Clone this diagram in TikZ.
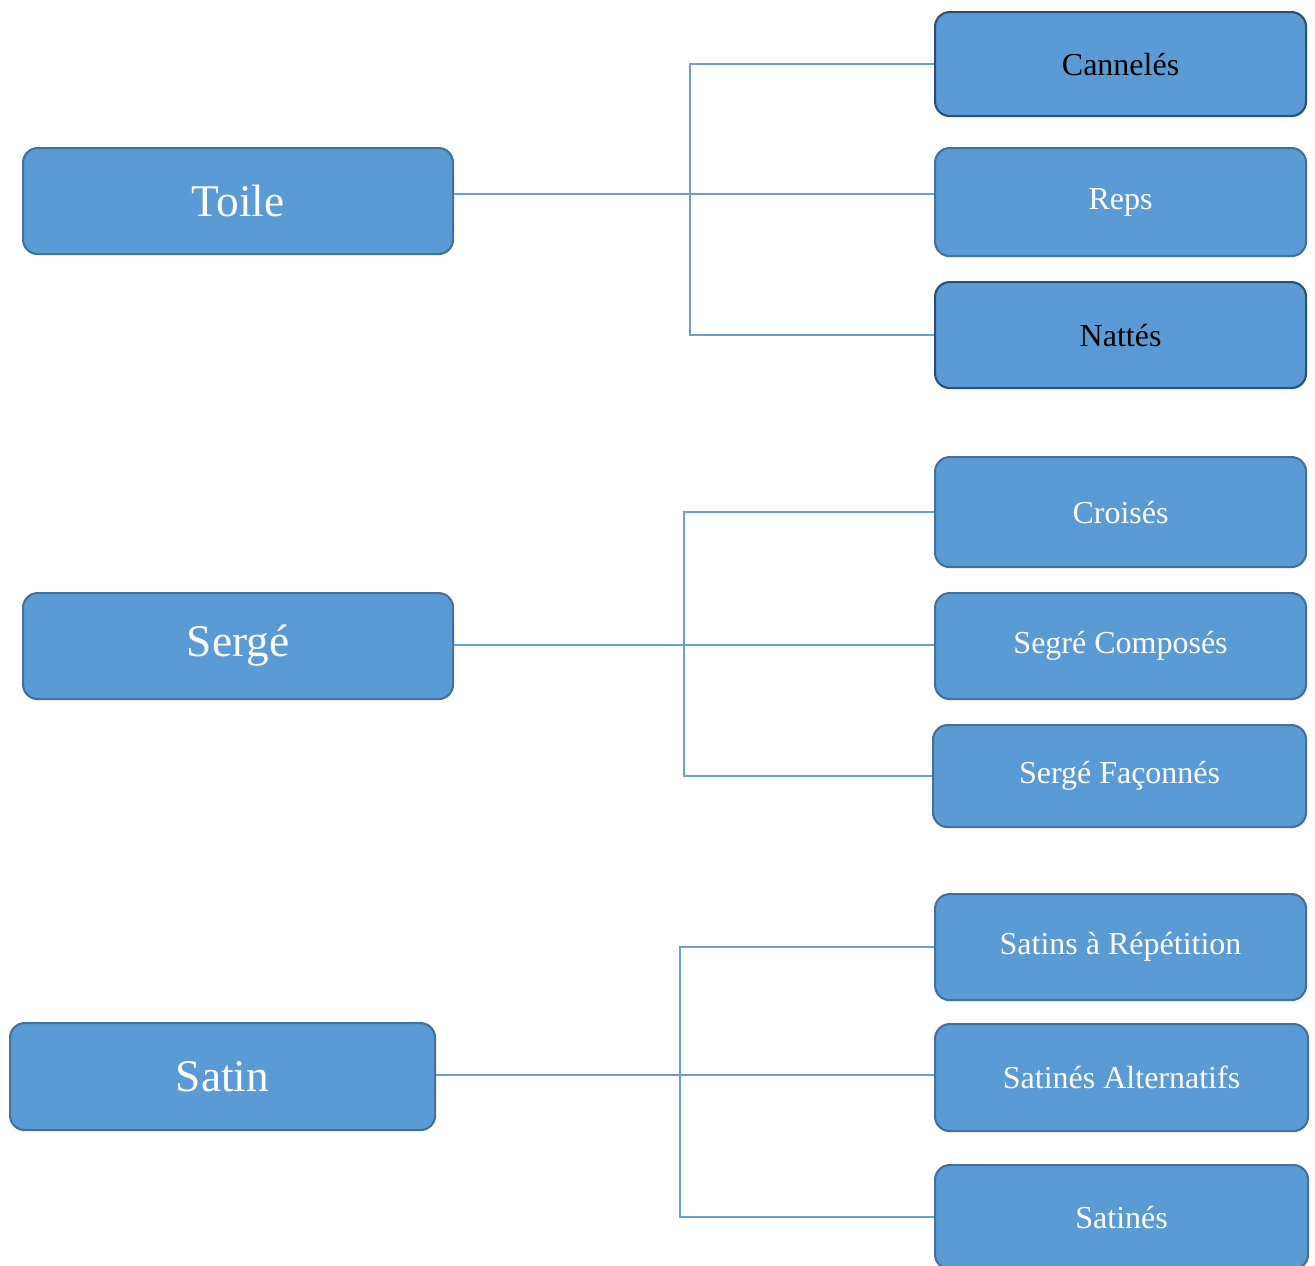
\documentclass[tikz,border=0pt]{standalone}
\usepackage{fontspec}
\setmainfont{Liberation Serif}
\definecolor{boxfill}{HTML}{5B9BD5}
\definecolor{boxedge}{HTML}{41719C}
\definecolor{darkedge}{HTML}{2E4F74}
\definecolor{linkc}{HTML}{6A9FD6}
\tikzset{
  box/.style={draw=boxedge, line width=1.6pt, fill=boxfill, rounded corners=11pt,
    text=white, anchor=north west, inner sep=0pt},
  mainbox/.style={box, font=\fontsize{34}{38}\selectfont},
  subbox/.style={box, font=\fontsize{24}{28}\selectfont},
  darkbox/.style={subbox, draw=darkedge, text=black},
  link/.style={draw=linkc, line width=1.1pt}
}
\newcommand\placebox[7]{%
  \node[#1, minimum width={(#5-#3)*0.75pt}, minimum height={(#6-#4)*0.75pt}] (#2) at (#3,#4) {#7};}
\begin{document}
\begin{tikzpicture}[x=0.75pt,y=-0.75pt]
\useasboundingbox (0,0) rectangle (1315,1265);
\clip (0,0) rectangle (1315,1265);
% left boxes
\placebox{mainbox}{toile}{22}{147}{452}{253}{Toile}
\placebox{mainbox}{serge}{22}{592}{452}{698}{Sergé}
\placebox{mainbox}{satin}{9}{1022}{434}{1129}{Satin}
% right boxes
\placebox{darkbox}{cann}{934}{11}{1305}{115}{Cannelés}
\placebox{subbox}{reps}{934}{147}{1305}{255}{Reps}
\placebox{darkbox}{natt}{934}{281}{1305}{387}{Nattés}
\placebox{subbox}{crois}{934}{456}{1305}{566}{Croisés}
\placebox{subbox}{scomp}{934}{592}{1305}{698}{Segré Composés}
\placebox{subbox}{sfac}{932}{724}{1305}{826}{Sergé Façonnés}
\placebox{subbox}{srep}{934}{893}{1305}{999}{Satins à Répétition}
\placebox{subbox}{salt}{934}{1023}{1307}{1130}{Satinés Alternatifs}
\placebox{subbox}{satn}{934}{1164}{1307}{1268}{Satinés}
% junctions
\coordinate (jT) at (690,194);
\coordinate (jS) at (684,645);
\coordinate (jA) at (680,1075);
% connectors
\draw[link] (toile.east |- jT) -- (reps.west |- jT);
\draw[link] (cann.west) -| (jT) |- (natt.west);
\draw[link] (serge.east |- jS) -- (scomp.west |- jS);
\draw[link] (crois.west) -| (jS) |- (sfac.west);
\draw[link] (satin.east |- jA) -- (salt.west |- jA);
\draw[link] (srep.west) -| (jA) |- (satn.west);
\end{tikzpicture}
\end{document}
